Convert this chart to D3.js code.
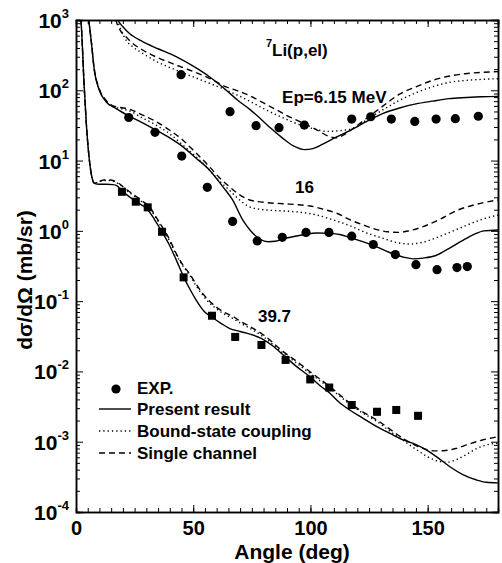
<!DOCTYPE html>
<html>
<head>
<meta charset="utf-8">
<script src="https://cdn.jsdelivr.net/npm/d3@7/dist/d3.min.js"></script>
<style>
  body { margin: 0; background: #fff; }
  svg text { font-family: "Liberation Sans", Arial, sans-serif; font-weight: bold; fill: #000; }
</style>
</head>
<body>
<div id="chart"></div>
<script>
//tick labels
const xTicks = [0, 50, 100, 150];
const yExps = [-4, -3, -2, -1, 0, 1, 2, 3];

//experimental points, Ep = 6.15 MeV
const expAng615 = [44.8, 65.7, 76.8, 86.6, 97.4, 117.6, 125.7, 134.5, 144.5, 153.6, 161.8, 171.6];
const expVal615 = [167, 49.6, 31.4, 29.4, 32, 39, 42, 39, 36, 39, 39.5, 42.7];

//experimental points, 16 MeV
const expAng16 = [22.5, 33.7, 45.1, 56, 66.8, 77.3, 88, 98.1, 107.9, 117.6, 126.8, 136.2, 145, 154, 162.5, 166.9];
const expVal16 = [41, 25.2, 11.6, 4.16, 1.36, 0.72, 0.81, 0.95, 0.95, 0.84, 0.64, 0.46, 0.33, 0.28, 0.30, 0.31];

//experimental points, 39.7 MeV (with error)
const expAng397 = [19.6, 25.5, 30.6, 36.7, 45.9, 58, 67.9, 79.1, 89.4, 99.9, 108, 117.6, 128.4, 136.6, 145.9];
const expVal397 = [3.6, 2.6, 2.16, 0.97, 0.218, 0.062, 0.031, 0.0238, 0.0146, 0.0077, 0.0059, 0.00333, 0.00267, 0.00283, 0.00234];
const expErr397 = [0.3, 0.2, 0.2, 0.07, 0.018, 0.005, 0.003, 0.002, 0.0013, 0.0007, 0.0005, 0.0003, 0.00025, 0.00025, 0.00022];

//calculations [angle, value]
const present615 = [[16,1400],[17.8,1000],[20,800],[22.7,646],[28.4,492],[35,390],[42.7,301],[50,220],[56.9,156],[64,101],[69,72],[74,54],[78.5,40],[83,29],[88,21],[93,16],[97.5,14.3],[101,14.8],[105.5,17.3],[111,21.5],[117,27],[124,36],[131,47],[138,56],[145,64],[152,70],[159,76],[166.6,79],[173,81],[180,82]];
const bound615 = [[16,1300],[17.5,1000],[19,750],[21.3,519],[24,420],[28.4,336],[35,250],[42.7,194],[50,155],[56.9,126],[64,101],[69,85],[74,70],[80,55],[85.6,44.5],[91,37],[97,31],[102,28],[107,26],[112,26.5],[118.3,28.8],[124,38],[131,53],[138,72],[145.3,93],[152,112],[159.5,130],[166,138],[173,143],[180,146]];
const single615 = [[16,1400],[17,1000],[19,700],[21.3,579],[24,470],[28.4,374],[35,290],[42.7,229],[50,185],[56.9,148],[64,112],[69,98],[74,84],[80,66],[85.6,52.5],[91,42],[97,34],[103,27],[108,22],[111,21],[114,23],[118.3,28.8],[124,40],[131,60],[138,88],[145.3,113],[152,138],[159.5,160],[166,172],[173,180],[180,184]];

const present16 = [[4.5,1400],[5.4,1000],[6.5,500],[7.8,194],[9.9,101],[12.8,68.8],[17.1,55],[22.7,43],[28,35],[34.1,27.2],[40,21],[45.5,15.8],[51,11],[56.9,7.35],[62.6,4.26],[66.8,2.75],[71.1,1.43],[74.2,1.03],[78.5,0.76],[82,0.70],[85,0.71],[90,0.79],[97,0.88],[103,0.93],[108.3,0.92],[113,0.88],[117,0.80],[122,0.71],[126.8,0.62],[131,0.54],[135.4,0.47],[140,0.42],[144,0.40],[148,0.41],[153.8,0.45],[159,0.56],[165.2,0.74],[170,0.90],[174,1.0],[180,1.03]];
const bound16 = [[4.5,1400],[5.4,1000],[6.5,500],[7.8,200],[9.9,104],[12.8,71],[15.9,58],[19,55],[22.7,51],[28,41],[34.1,32],[40,24],[45.5,16.7],[51,11.5],[56.9,7.35],[61,5.2],[65.4,3.8],[69,2.9],[74,2.2],[80,2.0],[88.4,1.92],[95,1.85],[102.7,1.68],[110,1.42],[116.9,1.18],[123,0.96],[131.1,0.78],[137,0.68],[142.5,0.65],[148,0.69],[153.8,0.80],[160,0.97],[166.6,1.2],[173,1.45],[180,1.68]];
const single16 = [[4.5,1400],[5.4,1000],[6.5,500],[7.8,200],[9.9,105],[12.8,72],[15.9,60],[19,57],[22.7,54],[28,45],[34.1,36],[40,27],[45.5,19.6],[51,13],[56.9,8.2],[61,5.8],[65.4,4.26],[69,3.4],[74,2.75],[80,2.55],[88.4,2.43],[95,2.35],[99.8,2.26],[105,2.05],[111.2,1.78],[117,1.43],[122.6,1.21],[128.3,1.04],[133,0.97],[137.5,0.95],[142,1.0],[148.1,1.15],[155,1.45],[162.4,1.95],[170,2.35],[180,2.75]];

const present397 = [[1.5,1400],[2.1,1000],[3.5,112],[4.5,30],[5.7,10.2],[6.5,6.5],[7.8,4.75],[10,4.6],[13,4.6],[15.8,4.55],[17.4,4.4],[19.9,3.6],[22,3.2],[25.6,2.6],[30.6,2.0],[33.5,1.45],[36.7,0.97],[39.5,0.66],[42.7,0.39],[46.2,0.211],[48.5,0.15],[51.2,0.104],[54.7,0.071],[58.3,0.058],[62,0.048],[65.4,0.041],[70,0.037],[74.2,0.034],[79,0.0296],[84,0.023],[88.4,0.0171],[94,0.0118],[99.8,0.0084],[104,0.0063],[108.3,0.0049],[112,0.0037],[116.9,0.0028],[122,0.0022],[128.3,0.00164],[134,0.00131],[139.6,0.00106],[145,0.00091],[149.6,0.00076],[155,0.00057],[159.5,0.00044],[165,0.00034],[170.9,0.000285],[175,0.000265],[180,0.00026]];
const bound397 = [[1.5,1400],[2.1,1000],[3.5,112],[4.5,30],[5.7,10.2],[6.5,6.5],[7.8,4.8],[10.2,5.0],[12,5.2],[14.5,5.2],[16.5,5.0],[18.8,4.5],[21,3.9],[24.4,3.2],[28,2.6],[31.6,2.05],[34,1.55],[36.7,1.1],[39.5,0.76],[42.7,0.46],[45.5,0.32],[48.3,0.24],[51,0.17],[54,0.122],[57,0.094],[59.7,0.079],[63,0.066],[67.1,0.056],[70,0.049],[74.2,0.041],[80,0.031],[88.4,0.018],[94,0.0132],[99.8,0.0094],[104,0.0074],[108.3,0.0058],[112,0.0046],[116.9,0.0034],[122,0.0026],[128.3,0.00195],[134,0.0014],[139.6,0.00104],[145,0.00078],[149.6,0.00062],[155.3,0.00052],[158,0.00051],[162.4,0.00056],[166.6,0.00066],[170.9,0.0008],[175,0.0009],[180,0.00095]];
const single397 = [[1.5,1400],[2.1,1000],[3.5,112],[4.5,30],[5.7,10.2],[6.5,6.5],[7.8,4.8],[10.2,5.1],[12,5.3],[14.5,5.3],[16.5,5.1],[18.8,4.6],[21,4.0],[24.4,3.3],[28,2.7],[31.6,2.15],[34,1.6],[36.7,1.15],[39.5,0.8],[42.7,0.48],[45.5,0.33],[48.3,0.249],[51,0.18],[54,0.129],[57,0.1],[59.7,0.083],[63,0.07],[67.1,0.06],[70,0.052],[74.2,0.0434],[80,0.033],[88.4,0.0191],[94,0.014],[99.8,0.0099],[104,0.0078],[108.3,0.0061],[112,0.0048],[116.9,0.00352],[122,0.0027],[128.3,0.00204],[134,0.0015],[139.6,0.00111],[145,0.00088],[149.6,0.00077],[153,0.00074],[156.7,0.000745],[162,0.0008],[166.6,0.0009],[173,0.00105],[180,0.00118]];

const legendLabels = ["EXP.", "Present result", "Bound-state coupling", "Single channel"];

//layout
const W = 502, H = 563;
const mLeft = 76, mRight = 498, mTop = 20, mBottom = 512;

let svg = d3.select("#chart").append("svg")
  .attr("width", W)
  .attr("height", H);

let x = d3.scaleLinear().domain([0, 180]).range([mLeft, mRight]);
let y = d3.scaleLog().domain([1e-4, 1e3]).range([mBottom, mTop]);

//minor tick values
let xMinor = d3.range(0, 181, 5);
let yMinor = [];
yExps.forEach(e => { if (e < 3) for (let k = 2; k <= 9; k++) yMinor.push(k * Math.pow(10, e)); });
let yMajor = yExps.map(e => Math.pow(10, e));

function styleAxis(g) {
  g.selectAll("path.domain").attr("stroke", "#000").attr("stroke-width", 1.5);
  g.selectAll(".tick line").attr("stroke", "#000").attr("stroke-width", 1);
}

//bottom
svg.append("g").attr("transform", `translate(0,${mBottom})`)
  .call(d3.axisBottom(x).tickValues(xMinor).tickSize(-4).tickFormat(""))
  .call(styleAxis);
let xAx = svg.append("g").attr("transform", `translate(0,${mBottom})`)
  .call(d3.axisBottom(x).tickValues(xTicks).tickSizeInner(-7).tickSizeOuter(0).tickPadding(9))
  .call(styleAxis);
xAx.selectAll("text")
  .attr("font-size", 20)
  .style("font-family", "'Liberation Sans', Arial, sans-serif")
  .style("font-weight", "bold");

//top
svg.append("g").attr("transform", `translate(0,${mTop})`)
  .call(d3.axisTop(x).tickValues(xMinor).tickSize(-4).tickFormat(""))
  .call(styleAxis);
svg.append("g").attr("transform", `translate(0,${mTop})`)
  .call(d3.axisTop(x).tickValues(xTicks).tickSize(-7).tickFormat(""))
  .call(styleAxis);

//left
svg.append("g").attr("transform", `translate(${mLeft},0)`)
  .call(d3.axisLeft(y).tickValues(yMinor).tickSize(-4).tickFormat(""))
  .call(styleAxis);
svg.append("g").attr("transform", `translate(${mLeft},0)`)
  .call(d3.axisLeft(y).tickValues(yMajor).tickSize(-7).tickFormat(""))
  .call(styleAxis);

//right
svg.append("g").attr("transform", `translate(${mRight},0)`)
  .call(d3.axisRight(y).tickValues(yMinor).tickSize(-4).tickFormat(""))
  .call(styleAxis);
svg.append("g").attr("transform", `translate(${mRight},0)`)
  .call(d3.axisRight(y).tickValues(yMajor).tickSize(-7).tickFormat(""))
  .call(styleAxis);

//10^n labels
yExps.forEach(e => {
  let t = svg.append("text")
    .attr("x", mLeft - 7)
    .attr("y", y(Math.pow(10, e)) + 8)
    .attr("text-anchor", "end");
  t.append("tspan").attr("font-size", 21).text("10");
  t.append("tspan").attr("font-size", 13).attr("dy", -10).text(e);
});

//axis titles
svg.append("text")
  .attr("x", 292).attr("y", 558.5)
  .attr("text-anchor", "middle")
  .attr("font-size", 21)
  .text("Angle (deg)");
svg.append("text")
  .attr("transform", "translate(32,280) rotate(-90)")
  .attr("text-anchor", "middle")
  .attr("font-size", 21)
  .text("dσ/dΩ (mb/sr)");

//clip curves to frame
svg.append("clipPath").attr("id", "clip")
  .append("rect").attr("x", mLeft).attr("y", mTop).attr("width", mRight - mLeft).attr("height", mBottom - mTop);

let line = d3.line()
  .x(d => x(d[0]))
  .y(d => y(d[1]))
  .curve(d3.curveMonotoneX);

let styles = {
  solid: null,
  dotted: "1.3,3",
  dashed: "6,4"
};

let curves = [
  [present615, "solid"], [bound615, "dotted"], [single615, "dashed"],
  [present16, "solid"], [bound16, "dotted"], [single16, "dashed"],
  [present397, "solid"], [bound397, "dotted"], [single397, "dashed"]
];

let cg = svg.append("g").attr("clip-path", "url(#clip)");
curves.forEach(c => {
  cg.append("path")
    .datum(c[0])
    .attr("d", line)
    .attr("fill", "none")
    .attr("stroke", "#000")
    .attr("stroke-width", 1.4)
    .attr("stroke-dasharray", styles[c[1]]);
});

//experimental circles
[[expAng615, expVal615], [expAng16, expVal16]].forEach(set => {
  svg.append("g").selectAll("circle")
    .data(set[0])
    .join("circle")
    .attr("cx", d => x(d))
    .attr("cy", (d, i) => y(set[1][i]))
    .attr("r", 4.6)
    .attr("fill", "#000");
});

//39.7 points: squares with error bars
let eg = svg.append("g");
expAng397.forEach((a, i) => {
  let v = expVal397[i], e = expErr397[i];
  eg.append("line")
    .attr("x1", x(a)).attr("x2", x(a))
    .attr("y1", y(v - e)).attr("y2", y(v + e))
    .attr("stroke", "#000").attr("stroke-width", 1.5);
  [v - e, v + e].forEach(b => {
    eg.append("line")
      .attr("x1", x(a) - 3).attr("x2", x(a) + 3)
      .attr("y1", y(b)).attr("y2", y(b))
      .attr("stroke", "#000").attr("stroke-width", 1.5);
  });
  eg.append("rect")
    .attr("x", x(a) - 4).attr("y", y(v) - 4)
    .attr("width", 8).attr("height", 8)
    .attr("fill", "#000");
});

//annotations
let t1 = svg.append("text").attr("x", x(81)).attr("y", y(308)).attr("font-size", 17);
t1.append("tspan").attr("font-size", 11).attr("dy", -9).text("7");
t1.append("tspan").attr("dy", 9).text("Li(p,el)");
svg.append("text").attr("x", x(87.9)).attr("y", y(66.5)).attr("font-size", 17).text("Ep=6.15 MeV");
svg.append("text").attr("x", x(93.4)).attr("y", y(3.42)).attr("font-size", 17).text("16");
svg.append("text").attr("x", x(77.6)).attr("y", y(0.051)).attr("font-size", 17).text("39.7");

//legend
let lg = svg.append("g");
let ly = [389, 409, 431, 453];
lg.append("circle").attr("cx", 116).attr("cy", ly[0]).attr("r", 4.6).attr("fill", "#000");
["solid", "dotted", "dashed"].forEach((s, i) => {
  lg.append("line")
    .attr("x1", 99).attr("x2", 131)
    .attr("y1", ly[i + 1]).attr("y2", ly[i + 1])
    .attr("stroke", "#000").attr("stroke-width", 1.4)
    .attr("stroke-dasharray", styles[s]);
});
legendLabels.forEach((l, i) => {
  lg.append("text")
    .attr("x", 137)
    .attr("y", ly[i] + (i == 0 ? 5 : 6))
    .attr("font-size", 17)
    .text(l);
});
</script>
</body>
</html>
